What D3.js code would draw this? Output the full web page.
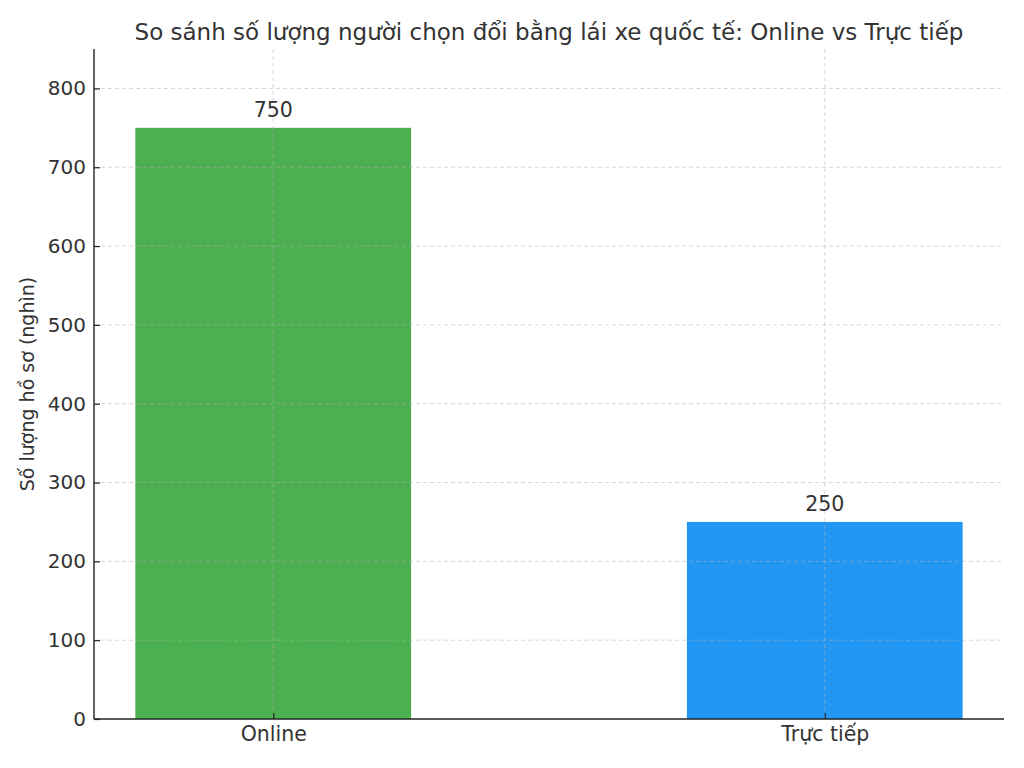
<!DOCTYPE html>
<html>
<head>
<meta charset="utf-8">
<script src="https://cdn.jsdelivr.net/npm/d3@7"></script>
<style>
  body { margin: 0; background: #fff; }
  text { font-family: "DejaVu Sans", sans-serif; fill: #333; }
</style>
</head>
<body>
<svg id="chart" width="1024" height="768"></svg>
<script>
const categories = ["Online", "Trực tiếp"];
const counts = [750, 250];
const barColors = ["#4CAF50", "#2196F3"];
const yTicks = [0, 100, 200, 300, 400, 500, 600, 700, 800];
const titleText = "So sánh số lượng người chọn đổi bằng lái xe quốc tế: Online vs Trực tiếp";
const yLabelText = "Số lượng hồ sơ (nghìn)";

const width = 1024, height = 768;
const margin = { top: 49, right: 20, bottom: 49, left: 94 };

const svg = d3.select("#chart");
const innerW = width - margin.left - margin.right;
const innerH = height - margin.top - margin.bottom;
const g = svg.append("g").attr("transform", `translate(${margin.left},${margin.top})`);

// category positions like matplotlib: bar width 0.5, xlim [-0.325, 1.325]
const x = d3.scaleLinear().domain([-0.325, categories.length - 1 + 0.325]).range([0, innerW]);
const barW = x(0.5) - x(0);
const y = d3.scaleLinear().domain([0, 850]).range([innerH, 0]);

// bars
g.selectAll(".bar")
    .data(categories)
    .join("rect")
    .attr("class", "bar")
    .attr("x", (d, i) => x(i) - barW / 2)
    .attr("y", (d, i) => y(counts[i]))
    .attr("width", barW)
    .attr("height", (d, i) => innerH - y(counts[i]))
    .attr("fill", (d, i) => barColors[i]);

// grid on top of bars
const grid = g.append("g").attr("class", "grid")
    .attr("stroke", "#b0b0b0").attr("stroke-opacity", 0.6)
    .attr("stroke-dasharray", "4,3").attr("stroke-width", 0.9);
grid.selectAll(".hgrid")
    .data(yTicks.filter(t => t > 0))
    .join("line")
    .attr("x1", 0).attr("x2", innerW)
    .attr("y1", d => y(d)).attr("y2", d => y(d));
grid.selectAll(".vgrid")
    .data(categories)
    .join("line")
    .attr("x1", (d, i) => x(i)).attr("x2", (d, i) => x(i))
    .attr("y1", 0).attr("y2", innerH);

// y axis
const yAxis = g.append("g")
    .call(d3.axisLeft(y).tickValues(yTicks).tickSize(-6).tickPadding(8));
yAxis.select(".domain").attr("stroke", "#222").attr("stroke-width", 1.4)
    .attr("d", `M0,0V${innerH}`);
yAxis.selectAll(".tick line").attr("stroke", "#222").attr("stroke-width", 1.2);
yAxis.selectAll(".tick text").style("font-size", "20px").attr("fill", "#222");

// x axis
const xAxis = g.append("g")
    .attr("transform", `translate(0,${innerH})`)
    .call(d3.axisBottom(x).tickValues(categories.map((d, i) => i))
        .tickFormat(i => categories[i]).tickSize(-6).tickPadding(7));
xAxis.select(".domain").attr("stroke", "#222").attr("stroke-width", 1.4)
    .attr("d", `M0,0H${innerW}`);
xAxis.selectAll(".tick line").attr("stroke", "#222").attr("stroke-width", 1.2);
xAxis.selectAll(".tick text").style("font-size", "20.5px").attr("fill", "#222");

// value labels
g.selectAll(".value")
    .data(categories)
    .join("text")
    .attr("class", "value")
    .attr("x", (d, i) => x(i))
    .attr("y", (d, i) => y(counts[i]) - 11)
    .attr("text-anchor", "middle")
    .style("font-size", "20.5px")
    .text((d, i) => counts[i]);

// title
svg.append("text")
    .attr("x", margin.left + innerW / 2)
    .attr("y", 40)
    .attr("text-anchor", "middle")
    .style("font-size", "23px")
    .text(titleText);

// y label
svg.append("text")
    .attr("transform", `translate(34,${margin.top + innerH / 2}) rotate(-90)`)
    .attr("text-anchor", "middle")
    .style("font-size", "19px")
    .text(yLabelText);
</script>
</body>
</html>
